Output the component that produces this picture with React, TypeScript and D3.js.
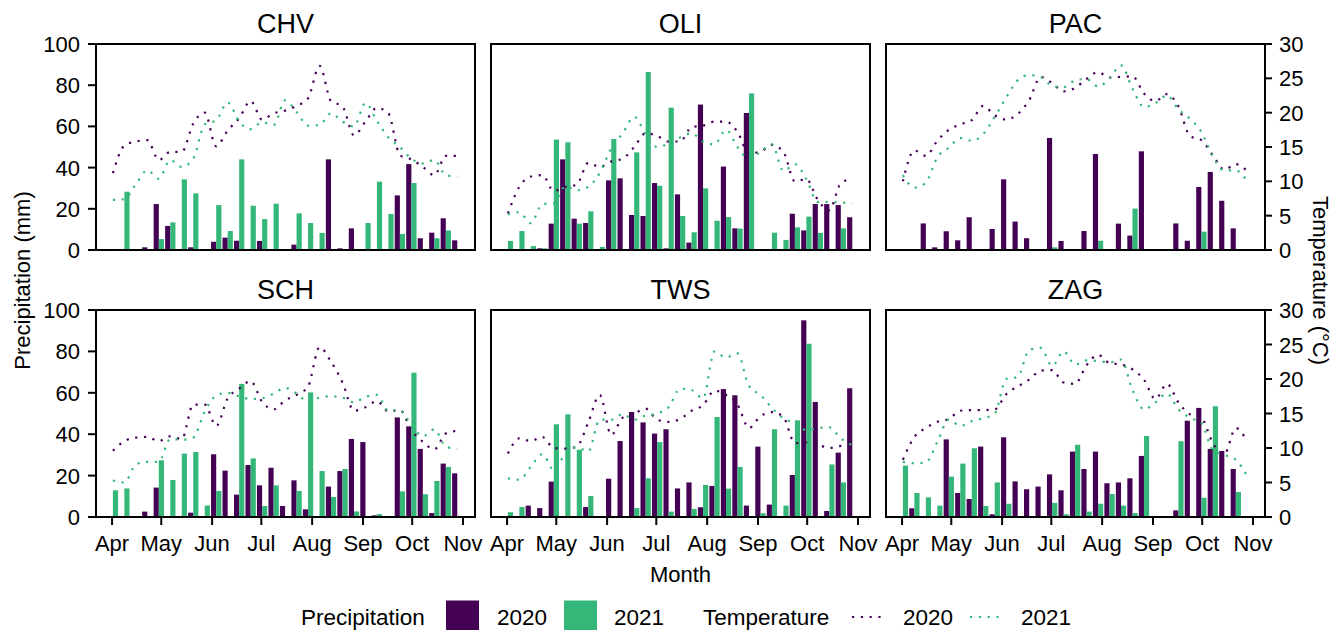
import React from "react";
import * as d3 from "d3";

// ---------- data ----------
const sites = ["CHV", "OLI", "PAC", "SCH", "TWS", "ZAG"];
const weeks = [
  "2020-04-01", "2020-04-08", "2020-04-15", "2020-04-22", "2020-04-29",
  "2020-05-06", "2020-05-13", "2020-05-20", "2020-05-27", "2020-06-03",
  "2020-06-10", "2020-06-17", "2020-06-24", "2020-07-01", "2020-07-08",
  "2020-07-15", "2020-07-22", "2020-07-29", "2020-08-05", "2020-08-12",
  "2020-08-19", "2020-08-26", "2020-09-02", "2020-09-09", "2020-09-16",
  "2020-09-23", "2020-09-30", "2020-10-07", "2020-10-14", "2020-10-21",
  "2020-10-28",
];
const yTicksPrecip = [0, 20, 40, 60, 80, 100];
const yTicksTemp = [0, 5, 10, 15, 20, 25, 30];

const chvP20 = [0, 0.5, 0, 1.3, 22.3, 11.7, 0, 1.3, 0, 4, 6, 4.5, 0, 4.4, 0, 0, 2.6, 0, 0, 44, 0.8, 10.5, 0, 0, 0.5, 26.5, 41.7, 5.7, 8.4, 15.4, 4.7];
const chvP21 = [0, 28.3, 0, 0, 5.3, 13.4, 34.3, 27.5, 0, 21.8, 9.2, 44, 21.5, 15, 22.5, 0, 17.8, 13.1, 8.3, 0, 0, 0.5, 13.1, 33.2, 17.5, 7.8, 32.5, 0, 5.7, 9.5, 0];
const chvT20 = [11.2, 15.2, 15.8, 16.0, 13.1, 14.3, 14.3, 18.4, 20.0, 15.1, 17.4, 19.2, 21.7, 19.0, 19.9, 20.3, 21.0, 22.1, 26.8, 21.7, 20.9, 16.7, 18.7, 20.7, 19.9, 13.8, 13.2, 12.1, 10.9, 13.7, 13.7];
const chvT21 = [7.3, 7.4, 9.6, 11.6, 10.4, 13.1, 12.1, 13.3, 18.3, 18.9, 21.5, 18.7, 17.6, 18.6, 18.2, 21.8, 20.1, 18.1, 18.2, 19.9, 18.7, 18.0, 21.4, 18.8, 16.4, 15.0, 13.3, 12.6, 13.1, 10.9, 10.7];

const oliP20 = [0, 0, 0, 0.8, 12.8, 44, 15.2, 13.1, 0, 33.8, 34.8, 17, 16.5, 32.5, 0.8, 27, 3.6, 70.6, 0, 40.5, 10.5, 66.5, 0, 0, 0.5, 17.6, 9.5, 22.3, 22.3, 21.8, 15.9];
const oliP21 = [4.4, 9.2, 1.9, 0.8, 53.6, 52.3, 12.8, 18.8, 1.5, 53.9, 0, 47.4, 86.4, 31.2, 69.1, 16.5, 8.6, 29.9, 14.2, 16, 10.4, 76, 0, 8.4, 4.9, 11, 16.2, 8.3, 0, 10.5, 0];
const oliT20 = [5.3, 9.2, 10.7, 10.9, 8.6, 9.2, 9.5, 12.7, 12.1, 12.9, 13.3, 15.0, 17.0, 16.6, 15.8, 15.8, 17.9, 18.1, 18.7, 18.7, 17.2, 14.1, 14.3, 15.3, 14.3, 10.0, 10.3, 7.3, 5.8, 9.7, 10.4];
const oliT21 = [5.2, 5.5, 3.9, 6.7, 6.8, 9.3, 8.7, 9.2, 11.2, 14.8, 17.0, 19.4, 16.9, 15.0, 15.5, 16.4, 17.0, 15.8, 15.4, 17.5, 15.0, 13.3, 14.3, 15.4, 11.5, 12.5, 10.3, 7.0, 7.0, 6.9, 6.8];

const pacP20 = [0, 0, 12.9, 1.3, 9.1, 4.7, 15.9, 0, 10.2, 34.3, 13.8, 5.7, 0, 54.4, 4.4, 0.5, 9.2, 46.6, 0, 12.8, 7, 47.9, 0, 0, 12.9, 4.5, 30.6, 37.9, 23.9, 10.5, 0];
const pacP21 = [0, 0, 0, 0, 0, 0, 0, 0, 0, 0, 0, 0, 0, 1.3, 0, 0, 0.3, 4.5, 0, 0, 20.1, 0, 0, 0, 0, 0, 8.9, 0, 0, 0, 0];
const pacT20 = [10.0, 14.5, 13.7, 15.9, 17.5, 18.3, 18.9, 21.0, 19.6, 19.0, 19.8, 21.8, 25.2, 24.3, 23.1, 23.6, 24.9, 25.9, 25.1, 25.2, 25.3, 22.8, 21.7, 22.7, 20.9, 16.6, 16.0, 13.8, 11.7, 12.5, 11.5];
const pacT21 = [10.9, 9.1, 9.8, 13.5, 14.9, 16.3, 15.9, 16.9, 19.4, 22.2, 24.7, 25.5, 25.2, 23.9, 23.7, 24.7, 24.9, 23.8, 25.0, 26.9, 23.5, 20.8, 21.4, 22.5, 20.5, 19.1, 17.2, 13.6, 11.6, 11.6, 10.0];

const schP20 = [0, 0, 0, 2.6, 14.2, 0, 0, 2.1, 0, 30.3, 22.4, 10.8, 25.1, 15.3, 23.8, 5.3, 17.7, 3.7, 0, 14.7, 22.2, 37.7, 36.2, 0.8, 0, 48.1, 43.8, 32.9, 1.9, 25.8, 21.1];
const schP21 = [12.9, 13.8, 0, 0, 27.4, 17.9, 30.6, 31.4, 5.5, 12.6, 0, 64.3, 28.3, 5.3, 15.3, 0, 12.6, 60.2, 22.2, 9.7, 23.2, 2.7, 0, 1.4, 0, 12.4, 69.7, 11, 17.4, 24.2, 0];
const schT20 = [9.6, 11.0, 11.5, 11.6, 11.0, 11.7, 11.3, 16.3, 16.3, 13.2, 17.2, 18.6, 19.7, 16.7, 15.6, 16.9, 17.7, 18.9, 24.6, 22.5, 19.5, 15.4, 15.9, 16.8, 15.3, 15.5, 12.6, 10.9, 9.8, 12.1, 12.5];
const schT21 = [5.3, 5.0, 7.6, 8.0, 8.0, 11.3, 11.2, 11.5, 15.3, 17.6, 18.0, 17.5, 17.1, 17.2, 17.9, 18.7, 17.9, 16.7, 17.3, 17.5, 17.3, 16.6, 17.4, 17.7, 15.4, 15.5, 13.3, 11.7, 12.7, 10.2, 9.9];

const twsP20 = [0, 0, 5.5, 4.3, 17.1, 0.3, 0, 4.8, 0, 18.5, 36.7, 50.7, 45.7, 40.3, 42.4, 13.8, 16.7, 4.7, 15, 61.8, 58.8, 5.5, 34, 6, 0.3, 20.3, 95, 55.6, 2.9, 31.1, 62.2];
const twsP21 = [2.3, 4.8, 0, 0, 44.8, 49.6, 32.5, 10.1, 0, 0, 0, 4.3, 18.7, 36.2, 2.6, 0, 3.9, 15.5, 48.3, 13.7, 24.2, 0, 1.8, 42.4, 5.5, 46.7, 83.7, 0, 25.4, 16.7, 0];
const twsT20 = [9.2, 11.4, 11.0, 11.6, 10.0, 9.9, 10.2, 13.7, 17.7, 11.9, 14.4, 15.0, 15.7, 14.1, 13.8, 14.2, 15.4, 16.2, 18.3, 17.7, 16.3, 12.9, 14.6, 15.2, 14.5, 10.7, 10.8, 10.5, 10.0, 10.3, 10.4];
const twsT21 = [5.6, 5.4, 7.3, 9.1, 6.8, 9.2, 10.1, 9.5, 14.1, 14.1, 14.9, 14.1, 14.7, 15.0, 15.9, 18.6, 18.4, 17.2, 24.0, 23.1, 23.7, 19.0, 17.7, 15.8, 14.3, 13.6, 12.6, 12.9, 13.0, 11.4, 10.4];

const zagP20 = [0, 4.2, 0, 0, 37.5, 11.6, 8.7, 34, 1.3, 38.5, 17.2, 13.4, 14.7, 20.6, 12.9, 31.6, 23.2, 31.6, 16.3, 16.7, 18.7, 29.5, 0, 0, 3.2, 46.5, 52.7, 32.9, 31.9, 23.2, 0];
const zagP21 = [24.8, 11.6, 9.5, 5.5, 19.5, 25.8, 33.2, 5.3, 16.7, 6.4, 0, 0, 0, 6.8, 1.3, 34.9, 2.6, 6.4, 11.1, 5.5, 1.9, 39.1, 0, 0, 36.6, 0, 9.3, 53.5, 0, 12.1, 0];
const zagT20 = [8.3, 11.6, 12.9, 13.8, 14.2, 15.4, 15.5, 15.5, 15.6, 17.8, 18.9, 19.9, 21.2, 21.3, 19.5, 19.3, 22.0, 23.5, 22.3, 22.1, 21.4, 19.9, 17.1, 19.3, 16.6, 14.9, 14.4, 10.7, 9.1, 12.9, 10.9];
const zagT21 = [8.0, 7.8, 7.9, 10.9, 14.1, 13.2, 13.9, 14.3, 15.0, 20.0, 20.3, 24.2, 24.5, 21.9, 24.0, 22.1, 22.7, 22.6, 22.4, 22.8, 18.4, 15.6, 16.6, 17.9, 15.6, 14.4, 13.6, 9.7, 9.0, 8.3, 5.9];

const precip2020 = [chvP20, oliP20, pacP20, schP20, twsP20, zagP20];
const precip2021 = [chvP21, oliP21, pacP21, schP21, twsP21, zagP21];
const temp2020 = [chvT20, oliT20, pacT20, schT20, twsT20, zagT20];
const temp2021 = [chvT21, oliT21, pacT21, schT21, twsT21, zagT21];

// ---------- style / layout ----------
const C20 = "#440154";
const C21 = "#35B779";
const FONT = "'Liberation Sans', Arial, Helvetica, sans-serif";
const W = 1343;
const H = 630;
const PANEL_W = 379;
const PANEL_X = [96, 491, 886];
const ROWS = [
  { top: 44, bottom: 250 },
  { top: 310, bottom: 517 },
];
const DAY = 86400000;
const APR1 = Date.UTC(2020, 3, 1);
const DOMAIN: [Date, Date] = [new Date(APR1 - 9.8 * DAY), new Date(APR1 + 221.3 * DAY)];
const monthTicks = d3.utcMonth.range(new Date(APR1), new Date(Date.UTC(2020, 10, 2)));
const fmtMonth = d3.utcFormat("%b");
const parse = d3.utcParse("%Y-%m-%d");
const centers = weeks.map((w) => new Date((parse(w) as Date).getTime() + 0.5 * DAY));
const HALF_BAR = 3.15 * DAY;

function Panel({ idx }: { idx: number }) {
  const col = idx % 3;
  const row = Math.floor(idx / 3);
  const x0 = PANEL_X[col];
  const { top, bottom } = ROWS[row];
  const x = d3.scaleUtc().domain(DOMAIN).range([x0, x0 + PANEL_W]);
  const y = d3.scaleLinear().domain([0, 100]).range([bottom, top]);
  const yT = d3.scaleLinear().domain([0, 30]).range([bottom, top]);
  const line = d3
    .line<number>()
    .x((_, i) => x(centers[i]))
    .y((d) => yT(d))
    .curve(d3.curveMonotoneX);
  const p20 = precip2020[idx];
  const p21 = precip2021[idx];
  const clipId = `clip${idx}`;
  return (
    <g>
      <clipPath id={clipId}>
        <rect x={x0} y={top} width={PANEL_W} height={bottom - top} />
      </clipPath>
      <text
        x={x0 + PANEL_W / 2}
        y={top - 11}
        textAnchor="middle"
        fontSize={27}
        fontFamily={FONT}
        fill="#000"
      >
        {sites[idx]}
      </text>
      <g clipPath={`url(#${clipId})`}>
        {p20.map((v, i) => {
          const xa = x(new Date(centers[i].getTime() - HALF_BAR));
          const xb = x(centers[i]);
          return v > 0 ? (
            <rect key={`a${i}`} x={xa} y={y(v)} width={xb - xa} height={y(0) - y(v)} fill={C20} />
          ) : null;
        })}
        {p21.map((v, i) => {
          const xa = x(centers[i]);
          const xb = x(new Date(centers[i].getTime() + HALF_BAR));
          return v > 0 ? (
            <rect key={`b${i}`} x={xa} y={y(v)} width={xb - xa} height={y(0) - y(v)} fill={C21} />
          ) : null;
        })}
        <path d={line(temp2020[idx]) || ""} fill="none" stroke={C20} strokeWidth={2.2} strokeDasharray="2.2 6.6" />
        <path d={line(temp2021[idx]) || ""} fill="none" stroke={C21} strokeWidth={2.2} strokeDasharray="2.2 6.6" />
      </g>
      <rect x={x0} y={top} width={PANEL_W} height={bottom - top} fill="none" stroke="#000" strokeWidth={2} />
      {col === 0 &&
        yTicksPrecip.map((t) => (
          <g key={`yl${t}`}>
            <line x1={x0 - 8} x2={x0} y1={y(t)} y2={y(t)} stroke="#000" strokeWidth={2} />
            <text x={x0 - 16} y={y(t) + 8} textAnchor="end" fontSize={22} fontFamily={FONT} fill="#000">
              {t}
            </text>
          </g>
        ))}
      {col === 2 &&
        yTicksTemp.map((t) => (
          <g key={`yr${t}`}>
            <line x1={x0 + PANEL_W} x2={x0 + PANEL_W + 7} y1={yT(t)} y2={yT(t)} stroke="#000" strokeWidth={2} />
            <text x={x0 + PANEL_W + 14} y={yT(t) + 8} textAnchor="start" fontSize={22} fontFamily={FONT} fill="#000">
              {t}
            </text>
          </g>
        ))}
      {row === 1 &&
        monthTicks.map((m) => (
          <g key={`x${m.getTime()}`}>
            <line x1={x(m)} x2={x(m)} y1={bottom} y2={bottom + 8} stroke="#000" strokeWidth={2} />
            <text x={x(m)} y={bottom + 34} textAnchor="middle" fontSize={22} fontFamily={FONT} fill="#000">
              {fmtMonth(m)}
            </text>
          </g>
        ))}
    </g>
  );
}

export default function App() {
  const midY = (ROWS[0].top + ROWS[1].bottom) / 2;
  const midX = (PANEL_X[0] + PANEL_X[2] + PANEL_W) / 2;
  const legY = 617;
  const txt = { fontSize: 22.5, fontFamily: FONT, fill: "#000" } as const;
  return (
    <svg
      width={W}
      height={H}
      viewBox={`0 0 ${W} ${H}`}
      style={{ position: "absolute", left: 0, top: 0, background: "#fff" }}
    >
      <rect x={0} y={0} width={W} height={H} fill="#fff" />
      {sites.map((s, i) => (
        <Panel key={s} idx={i} />
      ))}
      <text transform={`translate(30,${midY}) rotate(-90)`} textAnchor="middle" fontSize={22} fontFamily={FONT}>
        Precipitation (mm)
      </text>
      <text transform={`translate(1313,${midY}) rotate(90)`} textAnchor="middle" fontSize={22} fontFamily={FONT}>
        Temperature (°C)
      </text>
      <text x={midX} y={582} textAnchor="middle" fontSize={22} fontFamily={FONT}>
        Month
      </text>
      {/* legend */}
      <g>
        <text x={301} y={legY + 8} {...txt}>Precipitation</text>
        <rect x={446} y={legY - 16.5} width={33} height={33} fill={C20} />
        <text x={497} y={legY + 8} {...txt}>2020</text>
        <rect x={564} y={legY - 16.5} width={33} height={33} fill={C21} />
        <text x={614} y={legY + 8} {...txt}>2021</text>
        <text x={703} y={legY + 8} {...txt}>Temperature</text>
        <line x1={852} x2={885} y1={legY} y2={legY} stroke={C20} strokeWidth={2.2} strokeDasharray="2.2 6.6" />
        <text x={903} y={legY + 8} {...txt}>2020</text>
        <line x1={970} x2={1003} y1={legY} y2={legY} stroke={C21} strokeWidth={2.2} strokeDasharray="2.2 6.6" />
        <text x={1021} y={legY + 8} {...txt}>2021</text>
      </g>
    </svg>
  );
}
